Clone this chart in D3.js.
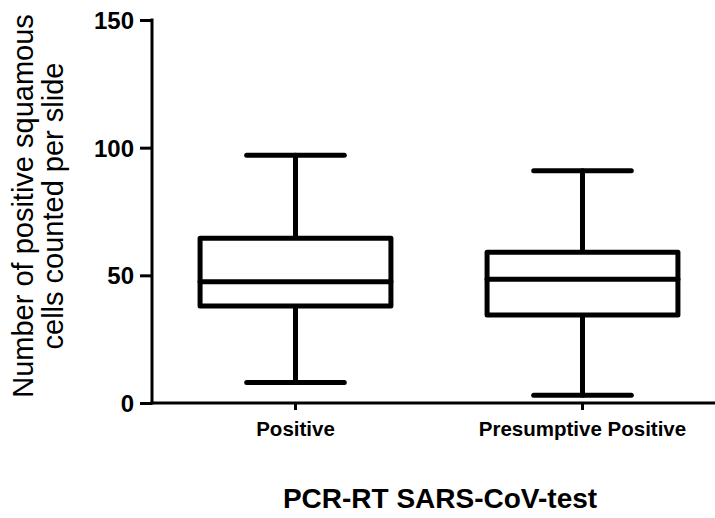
<!DOCTYPE html>
<html><head><meta charset="utf-8">
<script src="https://cdn.jsdelivr.net/npm/d3@7"></script>
<style>body{margin:0;background:#fff}svg{display:block}text{font-family:"Liberation Sans",Arial,sans-serif}</style>
</head><body><svg id="c" width="715" height="518"></svg>
<script>
const categories = ["Positive", "Presumptive Positive"];
const whiskerLow = [8, 3];
const q1 = [38, 34.5];
const median = [47.5, 48.5];
const q3 = [64.5, 59];
const whiskerHigh = [97, 91];
const yTicks = [0, 50, 100, 150];

const svg = d3.select("#c");
const x = d3.scaleBand().domain(categories).range([152, 726]);
const y = d3.scaleLinear().domain([0, 150]).range([403, 20]);
const boxW = x.bandwidth() * 0.665;
const capW = x.bandwidth() * 0.34;

// y axis
const ya = svg.append("g").attr("transform", "translate(152,0)")
  .call(d3.axisLeft(y).tickValues(yTicks).tickSize(12).tickSizeOuter(0).tickPadding(6));
ya.select(".domain").attr("stroke", "#000").attr("stroke-width", 3).attr("d", `M0,${y(150)-1.5}V${y(0)+1.5}`);
ya.selectAll(".tick line").attr("stroke", "#000").attr("stroke-width", 3);
ya.selectAll(".tick text").attr("font-size", 24).attr("font-weight", "bold").attr("fill", "#000").attr("dy", "0.36em");

// x axis
const xa = svg.append("g").attr("transform", "translate(0,403)")
  .call(d3.axisBottom(x).tickSize(7).tickSizeOuter(0).tickPadding(11));
xa.select(".domain").attr("stroke", "#000").attr("stroke-width", 3).attr("d", "M150.5,0H715");
xa.selectAll(".tick line").attr("stroke", "#000").attr("stroke-width", 3);
xa.selectAll(".tick text").attr("font-size", 20.5).attr("font-weight", "bold").attr("fill", "#000");

// boxes
const g = svg.append("g");
categories.forEach((c, i) => {
  const cx = x(c) + x.bandwidth() / 2;
  const line = (x1, y1, x2, y2) => g.append("line").attr("x1", x1).attr("y1", y1).attr("x2", x2).attr("y2", y2)
    .attr("stroke", "#000").attr("stroke-width", 5).attr("stroke-linecap", "round");
  line(cx, y(whiskerHigh[i]), cx, y(q3[i]));
  line(cx, y(q1[i]), cx, y(whiskerLow[i]));
  line(cx - capW / 2, y(whiskerHigh[i]), cx + capW / 2, y(whiskerHigh[i]));
  line(cx - capW / 2, y(whiskerLow[i]), cx + capW / 2, y(whiskerLow[i]));
  g.append("rect").attr("x", cx - boxW / 2).attr("y", y(q3[i])).attr("width", boxW).attr("height", y(q1[i]) - y(q3[i]))
    .attr("fill", "#fff").attr("stroke", "#000").attr("stroke-width", 5).attr("stroke-linejoin", "round");
  line(cx - boxW / 2, y(median[i]), cx + boxW / 2, y(median[i]));
});

// titles
svg.append("text").attr("x", 440).attr("y", 508).attr("text-anchor", "middle")
  .attr("font-size", 28).attr("font-weight", "bold").text("PCR-RT SARS-CoV-test");
const yt = svg.append("text").attr("transform", "translate(0,206) rotate(-90)").attr("text-anchor", "middle").attr("font-size", 29);
yt.append("tspan").attr("x", 0).attr("y", 33).text("Number of positive squamous");
yt.append("tspan").attr("x", 0).attr("y", 63).text("cells counted per slide");
</script></body></html>
